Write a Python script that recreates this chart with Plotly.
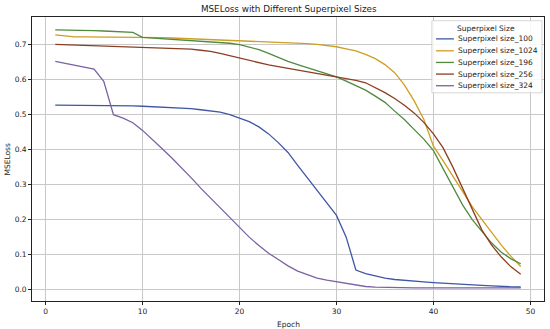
import plotly.graph_objects as go

epochs = list(range(1, 50))

loss_100 = [0.527, 0.527, 0.527, 0.527, 0.527, 0.526, 0.526, 0.526, 0.525, 0.524,
            0.523, 0.522, 0.521, 0.519, 0.517, 0.514, 0.511, 0.507, 0.500, 0.490,
            0.480, 0.465, 0.445, 0.420, 0.392, 0.355, 0.320, 0.283, 0.247, 0.212,
            0.150, 0.056, 0.046, 0.039, 0.033, 0.029, 0.026, 0.024, 0.022, 0.020,
            0.018, 0.016, 0.015, 0.013, 0.012, 0.011, 0.009, 0.008, 0.0075]
loss_1024 = [0.728, 0.724, 0.722, 0.722, 0.722, 0.722, 0.722, 0.722, 0.722, 0.722,
             0.721, 0.720, 0.719, 0.718, 0.717, 0.716, 0.715, 0.714, 0.712, 0.711,
             0.710, 0.709, 0.708, 0.707, 0.706, 0.705, 0.703, 0.701, 0.698, 0.694,
             0.688, 0.682, 0.672, 0.660, 0.643, 0.620, 0.585, 0.540, 0.487, 0.410,
             0.368, 0.325, 0.280, 0.237, 0.200, 0.163, 0.127, 0.095, 0.066]
loss_196 = [0.742, 0.742, 0.741, 0.741, 0.740, 0.739, 0.738, 0.737, 0.735, 0.721,
            0.719, 0.717, 0.716, 0.714, 0.713, 0.711, 0.709, 0.707, 0.704, 0.700,
            0.694, 0.686, 0.675, 0.663, 0.652, 0.643, 0.634, 0.626, 0.617, 0.608,
            0.596, 0.583, 0.570, 0.553, 0.535, 0.510, 0.486, 0.458, 0.430, 0.397,
            0.345, 0.292, 0.242, 0.200, 0.165, 0.133, 0.107, 0.088, 0.074]
loss_256 = [0.701, 0.700, 0.700, 0.699, 0.698, 0.698, 0.697, 0.696, 0.695, 0.694,
            0.693, 0.692, 0.690, 0.689, 0.687, 0.684, 0.681, 0.675, 0.668, 0.662,
            0.655, 0.648, 0.642, 0.637, 0.632, 0.628, 0.623, 0.618, 0.613, 0.609,
            0.604, 0.598, 0.591, 0.578, 0.563, 0.546, 0.527, 0.505, 0.478, 0.445,
            0.405, 0.350, 0.290, 0.225, 0.170, 0.127, 0.093, 0.065, 0.044]
loss_324 = [0.652, 0.647, 0.642, 0.637, 0.630, 0.595, 0.500, 0.490, 0.477, 0.455,
            0.430, 0.403, 0.377, 0.350, 0.320, 0.290, 0.262, 0.232, 0.203, 0.175,
            0.150, 0.126, 0.104, 0.086, 0.068, 0.053, 0.042, 0.033, 0.027, 0.022,
            0.017, 0.012, 0.009, 0.007, 0.006, 0.005, 0.005, 0.005, 0.005, 0.005,
            0.005, 0.005, 0.005, 0.005, 0.005, 0.005, 0.005, 0.005, 0.005]

series_names = ["Superpixel size_100", "Superpixel size_1024", "Superpixel size_196",
                "Superpixel size_256", "Superpixel size_324"]
series_values = [loss_100, loss_1024, loss_196, loss_256, loss_324]
colors = ["#3f56a6", "#cf9e22", "#4f8a3e", "#8c3e22", "#7a62a3"]

x_ticks = [0, 10, 20, 30, 40, 50]
y_ticks = [0.0, 0.1, 0.2, 0.3, 0.4, 0.5, 0.6, 0.7]

FONT = "DejaVu Sans"
TXT = "#222222"

fig = go.Figure()
for name, vals, col in zip(series_names, series_values, colors):
    fig.add_trace(go.Scatter(x=epochs, y=vals, mode="lines", name=name,
                             line=dict(color=col, width=1.3), showlegend=False))

# manual legend (matplotlib-like compact box)
shapes = [dict(type="rect", xref="paper", yref="paper", x0=0.781, x1=0.996, y0=0.733, y1=0.987,
               fillcolor="rgba(255,255,255,0.85)", line=dict(color="#cccccc", width=0.8), layer="above")]
annotations = [dict(text="Superpixel Size", xref="paper", yref="paper", x=0.887, y=0.961,
                    showarrow=False, xanchor="center", yanchor="middle",
                    font=dict(family=FONT, size=7.5, color=TXT))]
entry_y = [0.923, 0.881, 0.840, 0.799, 0.758]
for name, col, yy in zip(series_names, colors, entry_y):
    shapes.append(dict(type="line", xref="paper", yref="paper", x0=0.789, x1=0.824, y0=yy, y1=yy,
                       line=dict(color=col, width=1.3), layer="above"))
    annotations.append(dict(text=name, xref="paper", yref="paper", x=0.829, y=yy,
                            showarrow=False, xanchor="left", yanchor="middle",
                            font=dict(family=FONT, size=7.5, color=TXT)))

# axis titles
annotations.append(dict(text="Epoch", xref="paper", yref="paper", x=0.5, y=0, yshift=-17,
                        showarrow=False, xanchor="center", yanchor="top",
                        font=dict(family=FONT, size=7.5, color=TXT)))
annotations.append(dict(text="MSELoss", xref="paper", yref="paper", x=0, xshift=-19, y=0.5,
                        showarrow=False, xanchor="right", yanchor="middle", textangle=-90,
                        font=dict(family=FONT, size=7.5, color=TXT)))

axis_common = dict(showline=True, linecolor="#222222", linewidth=0.8, mirror=True,
                   ticks="outside", ticklen=3, tickwidth=0.8, tickcolor="#222222",
                   showgrid=True, gridcolor="#c8c8c8", gridwidth=0.8, zeroline=False,
                   automargin=False,
                   tickfont=dict(family=FONT, size=7.5, color=TXT))

fig.update_layout(
    width=550, height=329,
    margin=dict(l=32, r=6, t=17, b=28),
    paper_bgcolor="white", plot_bgcolor="white",
    title=dict(text="MSELoss with Different Superpixel Sizes", x=0.525, xanchor="center",
               y=0.973, yanchor="middle", yref="container",
               font=dict(family=FONT, size=8.8, color=TXT)),
    xaxis=dict(range=[-1.4, 51.4], tickvals=x_ticks, ticktext=[str(v) for v in x_ticks],
               **axis_common),
    yaxis=dict(range=[-0.0325, 0.779], tickvals=y_ticks, ticktext=[f"{v:.1f}" for v in y_ticks],
               **axis_common),
    shapes=shapes, annotations=annotations,
    showlegend=False,
)

fig.write_html("out.html", config={"displayModeBar": False},
               post_script="document.body.style.margin='0';document.body.style.overflow='hidden';")
